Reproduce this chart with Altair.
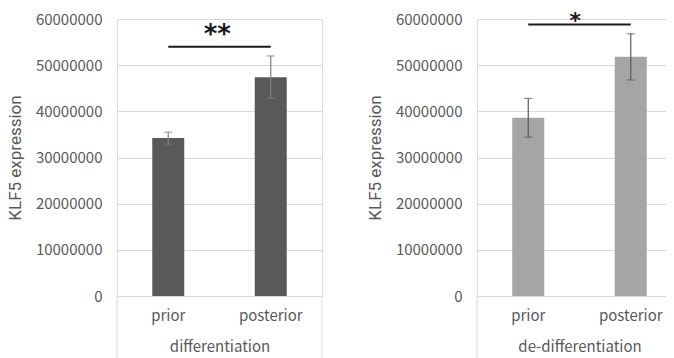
import altair as alt
import pandas as pd

# ---- data ----
conditions = ["prior", "posterior"]
groups = ["differentiation", "de-differentiation"]
means = {
    "differentiation": [34200000, 47400000],
    "de-differentiation": [38600000, 51800000],
}
errors = {
    "differentiation": [1300000, 4600000],
    "de-differentiation": [4200000, 5000000],
}
sig_y = {"differentiation": 54000000, "de-differentiation": 58800000}
sig_label = {"differentiation": "**", "de-differentiation": "*"}
y_ticks = [0, 10000000, 20000000, 30000000, 40000000, 50000000, 60000000]

bar_colors = {"differentiation": "#595959", "de-differentiation": "#a5a5a5"}
err_colors = {"differentiation": "#7f7f7f", "de-differentiation": "#595959"}
star_size = {"differentiation": 26, "de-differentiation": 22}
star_dy = {"differentiation": -4, "de-differentiation": 3}
star_dx = {"differentiation": 49, "de-differentiation": 47}

FONT = "Noto Sans CJK JP"
W, H = 205, 277


def panel(group, right_frame):
    df = pd.DataFrame({
        "condition": conditions,
        "mean": means[group],
        "lo": [m - e for m, e in zip(means[group], errors[group])],
        "hi": [m + e for m, e in zip(means[group], errors[group])],
    })
    sig = pd.DataFrame({"a": [conditions[0]], "b": [conditions[1]],
                        "y": [sig_y[group]], "label": [sig_label[group]]})

    xscale = alt.Scale(domain=conditions, paddingInner=0.688, paddingOuter=0.344)
    x = alt.X("condition:N", title=group, scale=xscale,
              axis=alt.Axis(labelAngle=0, ticks=False, domain=True,
                            domainColor="#d9d9d9", labelPadding=12,
                            titlePadding=16, labelFontSize=15, titleFontSize=15,
                            labelColor="#595959", titleColor="#595959",
                            labelFont=FONT, titleFont=FONT, titleFontWeight="normal"))
    y = alt.Y("mean:Q", title="KLF5 expression",
              scale=alt.Scale(domain=[0, 60000000], nice=False),
              axis=alt.Axis(values=y_ticks, format="d", ticks=False, domain=False,
                            gridColor="#d9d9d9", labelPadding=15, titlePadding=11,
                            labelFontSize=15, titleFontSize=17,
                            labelColor="#595959", titleColor="#595959",
                            labelFont=FONT, titleFont="Roboto", titleFontWeight="normal"))
    xc = alt.X("condition:N", scale=xscale)

    base = alt.Chart(df)
    bars = base.mark_bar(color=bar_colors[group]).encode(x=x, y=y)
    err = base.mark_rule(color=err_colors[group], strokeWidth=1.2).encode(
        x=xc, y="lo:Q", y2="hi:Q")
    caps_hi = base.mark_tick(color=err_colors[group], size=8, thickness=1.2).encode(
        x=xc, y="hi:Q")
    caps_lo = base.mark_tick(color=err_colors[group], size=8, thickness=1.2).encode(
        x=xc, y="lo:Q")

    sig_base = alt.Chart(sig)
    sig_line = sig_base.mark_rule(color="#1a1a1a", strokeWidth=2).encode(
        x=alt.X("a:N", scale=xscale), x2="b:N", y="y:Q")
    sig_text = sig_base.mark_text(fontSize=star_size[group], fontWeight="bold",
                                  font="DejaVu Sans", color="#1a1a1a",
                                  baseline="alphabetic", dy=star_dy[group],
                                  dx=star_dx[group]).encode(
        x=alt.X("a:N", scale=xscale), y="y:Q", text="label:N")

    one = pd.DataFrame({"k": [0]})
    layers = [bars, err, caps_hi, caps_lo, sig_line, sig_text,
              alt.Chart(one).mark_rule(color="#d9d9d9").encode(
                  x=alt.value(0), y=alt.value(H), y2=alt.value(H + 80))]
    if right_frame:
        layers.append(alt.Chart(one).mark_rule(color="#d9d9d9").encode(
            x=alt.value(W), y=alt.value(H), y2=alt.value(H + 80)))
    return alt.layer(*layers).properties(width=W, height=H)


chart = alt.hconcat(panel(groups[0], True), panel(groups[1], True), spacing=155,
                    bounds="flush").properties(
    autosize=alt.AutoSizeParams(type="none"),
    padding={"left": 109, "top": 11, "right": 549, "bottom": 331},
).configure_view(stroke=None).configure(background="white")

chart.save("out.html", embed_options={"renderer": "svg", "actions": False})
